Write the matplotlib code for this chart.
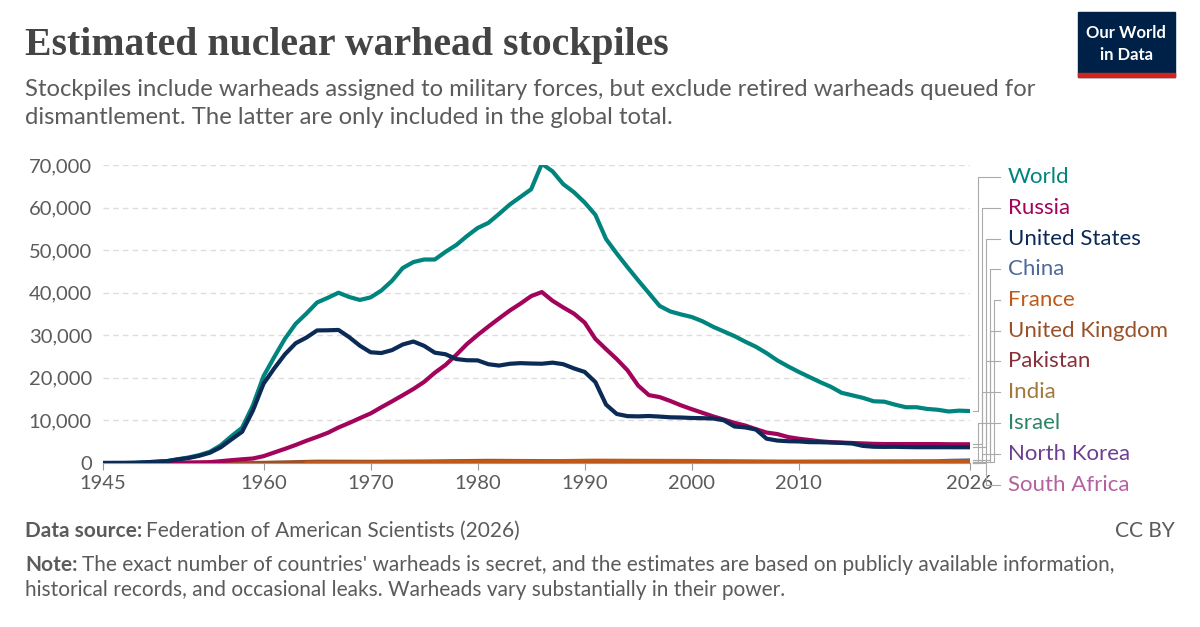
import matplotlib
matplotlib.use("Agg")
import matplotlib.pyplot as plt
from matplotlib.patches import Rectangle

years = list(range(1945, 2027))
world = [2,9,13,50,171,304,463,893,1300,1860,2650,4150,6300,8300,13500,20400,24900,29200,32700,35100,
         37700,38800,40000,39000,38300,38900,40500,42800,45800,47200,47800,47800,49600,51200,53300,55200,
         56400,58500,60700,62500,64300,70300,68500,65500,63600,61200,58300,52600,49200,46000,42900,39900,
         36900,35600,34900,34300,33300,32000,30900,29800,28500,27300,25800,24100,22700,21400,20200,19000,
         17900,16500,15900,15300,14500,14400,13700,13100,13100,12700,12500,12100,12300,12200]
usa = [2,9,13,50,170,299,438,841,1169,1703,2422,3692,5543,7345,12298,18638,22229,25540,28133,29463,
       31139,31175,31255,29561,27552,26008,25830,26516,27835,28537,27519,25914,25542,24418,24138,24104,
       23208,22886,23305,23459,23368,23317,23575,23205,22217,21392,19008,13708,11511,11011,10953,11042,
       10903,10732,10685,10577,10526,10457,10027,8570,8360,7853,5709,5273,5113,5066,4897,4881,4804,4717,
       4571,4018,3822,3785,3805,3750,3708,3708,3708,3708,3700,3700]
russia = [0,0,0,0,1,5,25,50,120,150,200,426,660,869,1060,1605,2471,3322,4238,5221,6129,7089,8339,9399,
          10538,11643,13092,14478,15915,17385,19055,21205,23044,25393,27935,30062,32049,33952,35804,37431,
          39197,40159,38107,36538,35078,32980,29154,26734,24400,21778,18179,15946,15487,14570,13541,12645,
          11801,10951,10201,9431,8800,7950,7150,6800,6100,5700,5400,5100,4900,4800,4700,4600,4500,4450,
          4450,4450,4450,4450,4450,4400,4400,4400]
china_y = [1964,1965,1966,1968,1970,1972,1975,1980,1985,1990,2000,2010,2020,2023,2024,2026]
china_v = [1,5,20,35,75,130,185,280,243,232,232,240,350,410,500,600]
france_y = [1964,1970,1975,1980,1985,1991,1995,2000,2008,2026]
france_v = [4,36,188,250,360,540,500,470,300,290]
uk_y = [1953,1960,1965,1970,1975,1981,1990,2000,2010,2026]
uk_v = [1,30,310,280,350,500,400,280,225,225]
pak_y = [1998,2010,2026]; pak_v = [5,70,170]
india_y = [1974,2000,2010,2026]; india_v = [1,15,60,180]
israel_y = [1967,1980,1990,2000,2026]; israel_v = [2,31,63,80,90]
nk_y = [2006,2015,2026]; nk_v = [1,10,50]
sa_y = [1982,1989,1993]; sa_v = [1,6,0]

series = [
    ("World", years, world, "#00847e"),
    ("Russia", years, russia, "#a2045b"),
    ("United States", years, usa, "#0b2a56"),
    ("China", china_y, china_v, "#4c6a9c"),
    ("France", france_y, france_v, "#c05917"),
    ("United Kingdom", uk_y, uk_v, "#9a5129"),
    ("Pakistan", pak_y, pak_v, "#883039"),
    ("India", india_y, india_v, "#a2783b"),
    ("Israel", israel_y, israel_v, "#2c8465"),
    ("North Korea", nk_y, nk_v, "#6d3e91"),
    ("South Africa", sa_y, sa_v, "#b4629f"),
]

plt.rcParams['font.family'] = ['Lato', 'DejaVu Sans']
W, H = 1200, 627
fig = plt.figure(figsize=(12, 6.27), dpi=100)
ax = fig.add_axes([103/W, 1-463/H, (970-103)/W, (463-165)/H])
draw_order = [10, 9, 8, 7, 6, 3, 5, 4, 0, 1, 2]
for i in draw_order:
    name, xs, ys, c = series[i]
    ax.plot(xs, ys, color=c, lw=3, solid_capstyle='round', solid_joinstyle='round', zorder=3)
ax.set_xlim(1945, 2026)
ax.set_ylim(0, 70000)
ax.set_yticks(range(0, 70001, 10000))
ax.set_yticklabels([f"{v:,}" for v in range(0, 70001, 10000)], color="#5b5b5b", fontsize=14.5)
ax.set_xticks([1945,1960,1970,1980,1990,2000,2010,2026])
ax.tick_params(axis='x', colors="#5b5b5b", labelsize=14.5, length=5, color="#999999")
ax.tick_params(axis='y', length=0, pad=8)
ax.grid(axis='y', color="#dddddd", ls=(0,(4,3)), lw=1)
for s in ['top','right','left']:
    ax.spines[s].set_visible(False)
ax.spines['bottom'].set_color("#999999")

label_y = [177,208,239,269,300,331,361,392,423,454,485]
xbs = [978, 982, 986, 990, 994, 990, 986, 982, 978, 982, 986]
trans = ax.transData
for i, (name, xs, ys, c) in enumerate(series):
    ey = H - trans.transform((2026, ys[-1]))[1]
    ly = label_y[i]
    xb = xbs[i]
    fig.add_artist(plt.Line2D([973/W, xb/W, xb/W, 1000/W], [1-ey/H, 1-ey/H, 1-ly/H, 1-ly/H],
                              color="#aaaaaa", lw=0.8, transform=fig.transFigure))
    fig.text(1008/W, 1-ly/H, name, color=c, fontsize=16, va='center')

fig.text(25/W, 1-45/H, "Estimated nuclear warhead stockpiles", fontsize=28.6, fontweight='bold',
         family=['Liberation Serif', 'DejaVu Serif'], color="#444444", va='center')
fig.text(25/W, 1-89/H, "Stockpiles include warheads assigned to military forces, but exclude retired warheads queued for",
         fontsize=17.2, color="#5b5b5b", va='center')
fig.text(25/W, 1-118/H, "dismantlement. The latter are only included in the global total.",
         fontsize=17.2, color="#5b5b5b", va='center')

renderer = fig.canvas.get_renderer()
def boldlead(y, bold, rest):
    t = fig.text(25/W, 1-y/H, bold, fontsize=15, color="#5b5b5b", va='center', fontweight='bold')
    w = t.get_window_extent(renderer).width
    fig.text((25+w+4)/W, 1-y/H, rest, fontsize=15, color="#5b5b5b", va='center')

boldlead(531, "Data source:", "Federation of American Scientists (2026)")
fig.text(1175/W, 1-531/H, "CC BY", fontsize=15, color="#5b5b5b", va='center', ha='right')
boldlead(565, "Note:", "The exact number of countries' warheads is secret, and the estimates are based on publicly available information,")
fig.text(25/W, 1-590/H, "historical records, and occasional leaks. Warheads vary substantially in their power.",
         fontsize=15, color="#5b5b5b", va='center')

fig.add_artist(Rectangle((1078/W, 1-77/H), 97/W, 65/H, color="#002147", transform=fig.transFigure))
fig.add_artist(Rectangle((1078/W, 1-77/H), 97/W, 4/H, color="#ce261e", transform=fig.transFigure))
fig.text(1126/W, 1-33/H, "Our World", color="white", fontsize=12, ha='center', va='center', fontweight='bold')
fig.text(1126/W, 1-55/H, "in Data", color="white", fontsize=12, ha='center', va='center', fontweight='bold')

fig.savefig("out.png", dpi=100)
